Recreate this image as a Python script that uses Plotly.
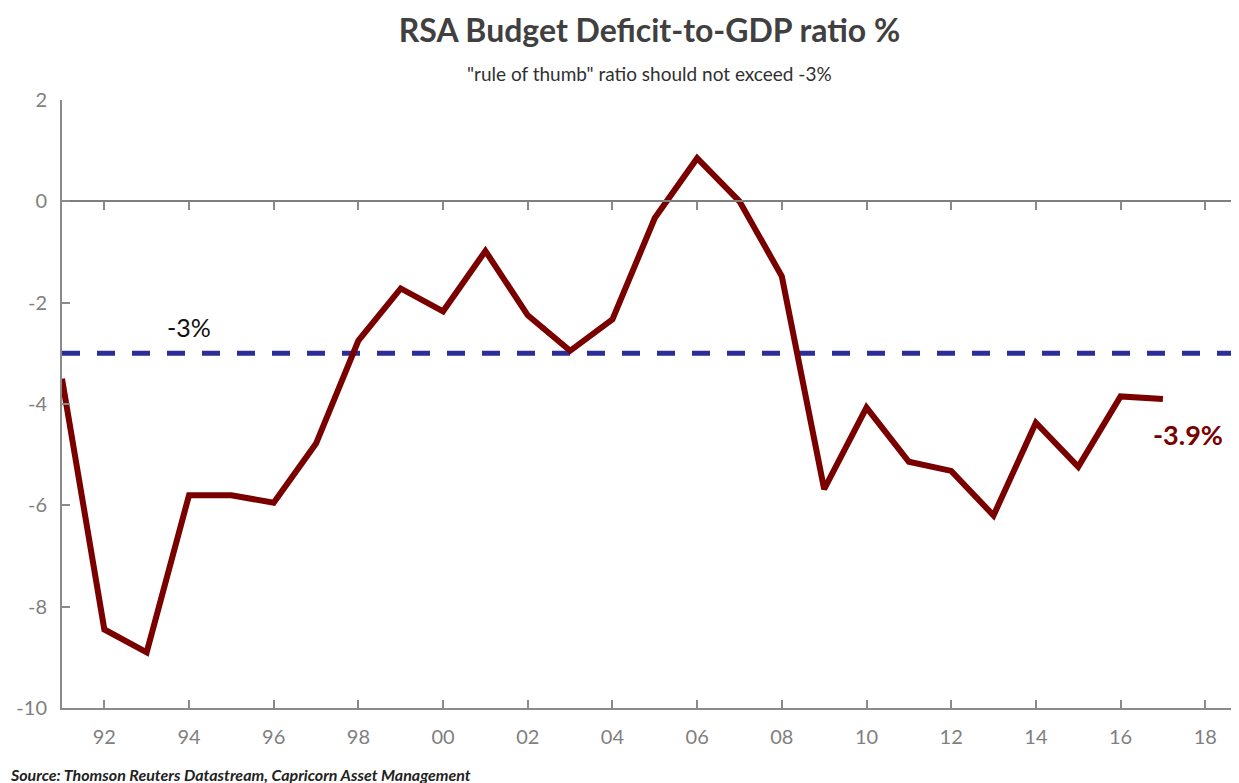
import plotly.graph_objects as go

years = list(range(1991, 2018))
deficit = [-3.5, -8.45, -8.9, -5.8, -5.8, -5.95, -4.78, -2.75, -1.72, -2.17,
           -0.98, -2.25, -2.95, -2.33, -0.33, 0.85, 0.0, -1.48, -5.68, -4.07,
           -5.14, -5.32, -6.2, -4.37, -5.24, -3.85, -3.9]
threshold = -3
tick_years = list(range(1992, 2019, 2))
tick_labels = [f"{y % 100:02d}" for y in tick_years]
y_ticks = [2, 0, -2, -4, -6, -8, -10]
y_labels = [str(v) for v in y_ticks]

AX = "#8a8a8a"
FONT = "Lato"
W, H = 1231, 775  # page body adds an 8px offset in the 1239x783 window

fig = go.Figure()
fig.add_trace(go.Scatter(x=[1991, 2018.75], y=[threshold, threshold], mode="lines",
                         line=dict(color="#2b2e96", width=5, dash="18px,17px"),
                         hoverinfo="skip", showlegend=False))
fig.add_trace(go.Scatter(x=years, y=deficit, mode="lines",
                         line=dict(color="#7a0000", width=6), showlegend=False))
fig.add_trace(go.Scatter(x=[1991], y=[None], xaxis="x2", showlegend=False, hoverinfo="skip"))

fig.update_layout(
    width=W, height=H,
    margin=dict(l=54, r=2, t=92, b=75, autoexpand=False),
    paper_bgcolor="white", plot_bgcolor="white",
    title=dict(text="RSA Budget Deficit-to-GDP ratio %", x=0.5, xref="paper", xanchor="center",
               y=1 - 23 / H, yanchor="middle", yref="container",
               font=dict(family=FONT, size=32, color="#404040", weight="bold")),
    xaxis=dict(range=[1991, 2018.75], tickvals=tick_years, ticktext=tick_labels,
               showgrid=False, zeroline=False, showline=True, linecolor=AX, linewidth=2,
               ticks="inside", ticklen=8, tickcolor=AX, tickwidth=1.5,
               ticklabelstandoff=10, automargin=False,
               tickfont=dict(family=FONT, size=20, color="#7f7f7f")),
    xaxis2=dict(range=[1991, 2018.75], tickvals=tick_years, overlaying="x",
                anchor="free", position=10/12, side="bottom", automargin=False,
                showgrid=False, zeroline=False, showline=True, linecolor="#7f7f7f", linewidth=1.5,
                ticks="outside", ticklen=8, tickcolor=AX, tickwidth=1.5,
                showticklabels=False),
    yaxis=dict(range=[-10, 2], tickvals=y_ticks, ticktext=y_labels, showgrid=False, zeroline=False,
               showline=True, linecolor=AX, linewidth=2,
               ticks="inside", ticklen=8, tickcolor=AX, tickwidth=1.5,
               ticklabelstandoff=9, automargin=False,
               tickfont=dict(family=FONT, size=20, color="#7f7f7f")),
)

fig.add_annotation(text='"rule of thumb" ratio should not exceed -3%', xref="paper", yref="paper",
                   x=0.5, y=1.0, yshift=27, yanchor="middle", showarrow=False,
                   font=dict(family=FONT, size=19, color="#303030"))
fig.add_annotation(text="-3%", x=1994, y=threshold, yshift=26, showarrow=False,
                   font=dict(family=FONT, size=25, color="#111111"))
fig.add_annotation(text="<b>-3.9%</b>", x=years[-1], y=deficit[-1], xshift=25, yshift=-36,
                   showarrow=False, font=dict(family=FONT, size=27, color="#7a0000"))
fig.add_annotation(text="<b><i>Source: Thomson Reuters Datastream, Capricorn Asset Management</i></b>",
                   xref="paper", yref="paper", x=0, xshift=-54, y=0, yshift=-66,
                   xanchor="left", yanchor="middle", showarrow=False,
                   font=dict(family=FONT, size=16, color="#222222"))

fig.write_html("out.html")
